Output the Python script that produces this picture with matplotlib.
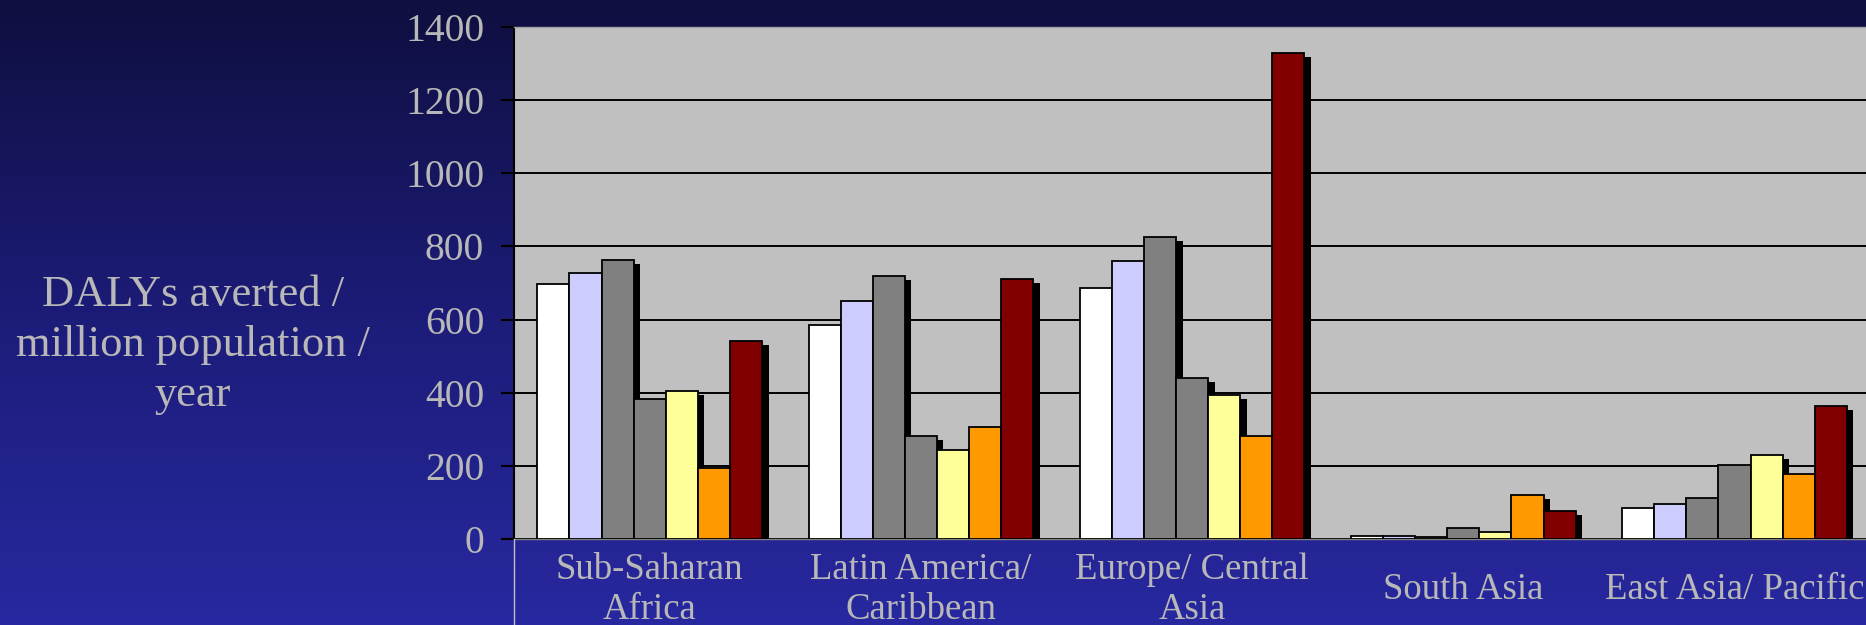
import numpy as np
import matplotlib.pyplot as plt
from matplotlib.colors import LinearSegmentedColormap
from matplotlib import patheffects
from matplotlib.lines import Line2D

regions = ['Sub-Saharan\nAfrica', 'Latin America/\nCaribbean', 'Europe/ Central\nAsia',
           'South Asia', 'East Asia/ Pacific']

s1 = [698, 584, 685, 9, 85]
s2 = [726, 652, 759, 9, 95]
s3 = [764, 720, 825, 5, 112]
s4 = [383, 283, 440, 31, 201]
s5 = [406, 243, 395, 19, 229]
s6 = [194, 305, 282, 120, 178]
s7 = [541, 712, 1328, 76, 363]

series = [s1, s2, s3, s4, s5, s6, s7]
colors = ['#ffffff', '#ccccff', '#808080', '#808080', '#ffff99', '#ff9900', '#800000']

plt.rcParams['font.family'] = ['Liberation Serif', 'DejaVu Serif']
txt = '#b8b8b8'

fig = plt.figure(figsize=(18.66, 6.25), dpi=100)

# gradient background
bg = fig.add_axes([0, 0, 1, 1], zorder=-10)
cmap = LinearSegmentedColormap.from_list('bg', ['#0f0f40', '#1c1c78', '#2828a0'])
bg.imshow(np.linspace(0, 1, 256).reshape(-1, 1), aspect='auto', cmap=cmap,
          extent=[0, 1, 0, 1])
bg.set_axis_off()

ax = fig.add_axes([0.2755, 0.1376, 0.7267, 0.8192])
ax.set_facecolor('#c0c0c0')

x = np.arange(len(regions))
w = 0.1183
shadow = [patheffects.SimplePatchShadow(offset=(4.7, -2.9), shadow_rgbFace='black', alpha=1.0),
          patheffects.Normal()]
for i, (vals, c) in enumerate(zip(series, colors)):
    ax.bar(x + (i - 3) * w, vals, w, color=c, edgecolor='black', linewidth=1.3,
           path_effects=shadow, zorder=3)

ax.set_xlim(-0.5, 4.5)
ax.set_ylim(0, 1400)
ax.set_yticks(np.arange(0, 1401, 200))
ax.yaxis.grid(True, color='black', linewidth=1.4)
ax.set_axisbelow(True)

ax.tick_params(axis='y', direction='out', length=9.5, width=1.5, color='black',
               pad=12, labelsize=28.5, labelcolor=txt)
ax.set_xticks(x)
ax.set_xticklabels(regions, fontsize=26.5, color=txt, linespacing=1.22)
ax.tick_params(axis='x', length=0, pad=36.5)
for lbl in ax.get_xticklabels():
    lbl.set_va('center')

ax.spines['left'].set_color('black')
ax.spines['left'].set_linewidth(1.5)
ax.spines['bottom'].set_color('#808080')
ax.spines['bottom'].set_linewidth(1.0)
ax.spines['top'].set_color('#a0a0a0')
ax.spines['top'].set_linewidth(1.0)
ax.spines['right'].set_visible(False)

# left border of the category label box
fig.add_artist(Line2D([0.2755, 0.2755], [0, 0.1376], color='#c0c0c0', linewidth=1.0))

fig.text(0.1034, 0.448, 'DALYs averted /\nmillion population /\nyear', ha='center',
         va='center', multialignment='center', fontsize=32, color=txt, linespacing=1.32)

plt.savefig('out.png', dpi=100)
